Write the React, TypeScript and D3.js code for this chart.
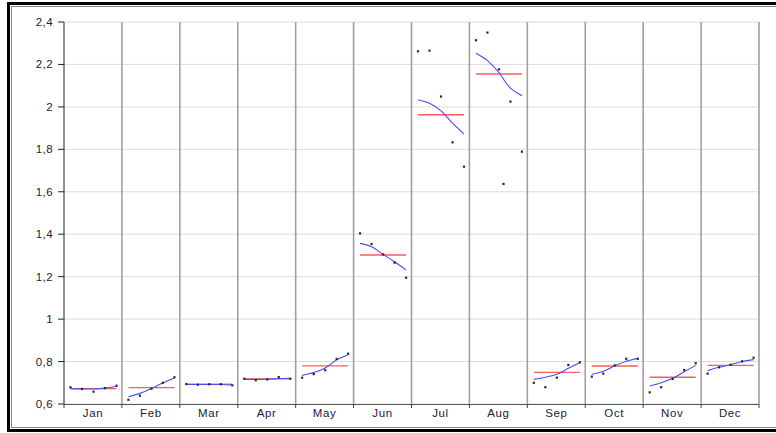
import React from 'react'
import * as d3 from 'd3'

const W = 776
const H = 433
const margin = { top: 22, right: 17, bottom: 29, left: 64 }

const months = ['Jan', 'Feb', 'Mar', 'Apr', 'May', 'Jun', 'Jul', 'Aug', 'Sep', 'Oct', 'Nov', 'Dec']

// five observations per month (one per year)
const values = [
  [0.679, 0.671, 0.658, 0.675, 0.686],
  [0.620, 0.639, 0.672, 0.700, 0.726],
  [0.694, 0.691, 0.693, 0.693, 0.688],
  [0.719, 0.712, 0.716, 0.727, 0.719],
  [0.724, 0.741, 0.759, 0.812, 0.837],
  [1.404, 1.354, 1.305, 1.266, 1.195],
  [2.262, 2.265, 2.049, 1.833, 1.718],
  [2.314, 2.350, 2.177, 2.025, 1.789],
  [0.700, 0.679, 0.724, 0.784, 0.796],
  [0.729, 0.743, 0.782, 0.813, 0.813],
  [0.655, 0.679, 0.718, 0.760, 0.792],
  [0.743, 0.773, 0.785, 0.801, 0.818],
]

// smoothed trend per month
const trend = [
  [0.672, 0.671, 0.671, 0.675, 0.684],
  [0.634, 0.650, 0.673, 0.700, 0.723],
  [0.692, 0.692, 0.692, 0.692, 0.690],
  [0.716, 0.716, 0.717, 0.720, 0.721],
  [0.735, 0.748, 0.770, 0.808, 0.832],
  [1.357, 1.341, 1.305, 1.270, 1.231],
  [2.034, 2.017, 1.981, 1.923, 1.872],
  [2.253, 2.218, 2.161, 2.088, 2.053],
  [0.716, 0.726, 0.740, 0.768, 0.796],
  [0.740, 0.754, 0.780, 0.801, 0.815],
  [0.685, 0.700, 0.721, 0.752, 0.782],
  [0.757, 0.773, 0.785, 0.800, 0.809],
]

const means = [0.672, 0.677, 0.694, 0.718, 0.780, 1.302, 1.963, 2.155, 0.749, 0.779, 0.726, 0.782]

// stray observation not on the regular year slots
const extraMonths = ['Aug']
const extraPos = [2.4]
const extraValues = [1.637]

const yTicks = [0.6, 0.8, 1, 1.2, 1.4, 1.6, 1.8, 2, 2.2, 2.4]

const fmt = d3.formatLocale({ decimal: ',', thousands: '.', grouping: [3], currency: ['', ''] }).format('.1~f')

const x = d3.scaleBand<string>().domain(months).range([margin.left, W - margin.right]).padding(0)
const y = d3.scaleLinear().domain([0.6, 2.4]).range([H - margin.bottom, margin.top])
const inner = d3.scaleLinear().domain([0, 4]).range([6.5, 52.5])

const px = (m: string, i: number) => (x(m) as number) + inner(i) * (x.bandwidth() / 57.9)

const font = '"Liberation Sans", Arial, sans-serif'

export default function App() {
  const x0 = margin.left
  const x1 = W - margin.right
  const y0 = H - margin.bottom
  const y1 = margin.top

  return (
    <svg width={W} height={H} style={{ position: 'absolute', left: 0, top: 0, background: '#fff' }}>
      <rect x={0} y={0} width={W} height={H} fill="#fff" />
      {/* frame */}
      <rect x={8.5} y={3.5} width={W + 10} height={427} fill="none" stroke="#000" strokeWidth={3} />
      <rect x={11.5} y={6.5} width={W + 10} height={421} fill="none" stroke="#888" strokeWidth={1} />

      {/* horizontal grid */}
      {yTicks.map(t => (
        <line key={t} x1={x0} x2={x1} y1={y(t)} y2={y(t)} stroke="#dcdcdc" strokeWidth={1} />
      ))}

      {/* month dividers */}
      {months.map(m => (
        <line key={m} x1={(x(m) as number) + x.bandwidth()} x2={(x(m) as number) + x.bandwidth()}
          y1={y1} y2={y0} stroke="#a0a0a0" strokeWidth={1.6} />
      ))}

      {/* axes */}
      <line x1={x0} x2={x0} y1={y1} y2={y0} stroke="#222" strokeWidth={1} />
      <line x1={x0} x2={x1} y1={y0 + 0.5} y2={y0 + 0.5} stroke="#555" strokeWidth={1} />
      {yTicks.map(t => (
        <g key={t}>
          <line x1={x0 - 6} x2={x0} y1={y(t)} y2={y(t)} stroke="#222" />
          <text x={x0 - 11} y={y(t)} dy="0.35em" textAnchor="end" fontFamily={font} fontSize={11.5} fill="#223" letterSpacing={0.4}>
            {fmt(t)}
          </text>
        </g>
      ))}
      {[x0, ...months.map(m => (x(m) as number) + x.bandwidth())].map((v, i) => (
        <line key={i} x1={v} x2={v} y1={y0} y2={y0 + 4} stroke="#444" />
      ))}
      {months.map(m => (
        <text key={m} x={(x(m) as number) + x.bandwidth() / 2} y={y0 + 13} textAnchor="middle"
          fontFamily={font} fontSize={11.5} fill="#223" letterSpacing={0.6}>
          {m}
        </text>
      ))}

      {/* per-month marks */}
      {months.map((m, mi) => {
        const path = d3.line<number>()
          .x((_, i) => px(m, i))
          .y(d => y(d))
          .curve(d3.curveCatmullRom.alpha(0.5))(trend[mi]) as string
        return (
          <g key={m}>
            <line x1={px(m, 0)} x2={px(m, 4)} y1={y(means[mi])} y2={y(means[mi])} stroke="#ff5a5a" strokeWidth={1.3} />
            <path d={path} fill="none" stroke="#4a4aff" strokeWidth={1.1} />
            {values[mi].map((v, i) => (
              <rect key={i} x={px(m, i) - 1.1} y={y(v) - 1.1} width={2.2} height={2.2} fill="#2a2a2a" />
            ))}
          </g>
        )
      })}
      {extraMonths.map((m, i) => (
        <rect key={i} x={px(m, extraPos[i]) - 1.1} y={y(extraValues[i]) - 1.1} width={2.2} height={2.2} fill="#2a2a2a" />
      ))}
    </svg>
  )
}
